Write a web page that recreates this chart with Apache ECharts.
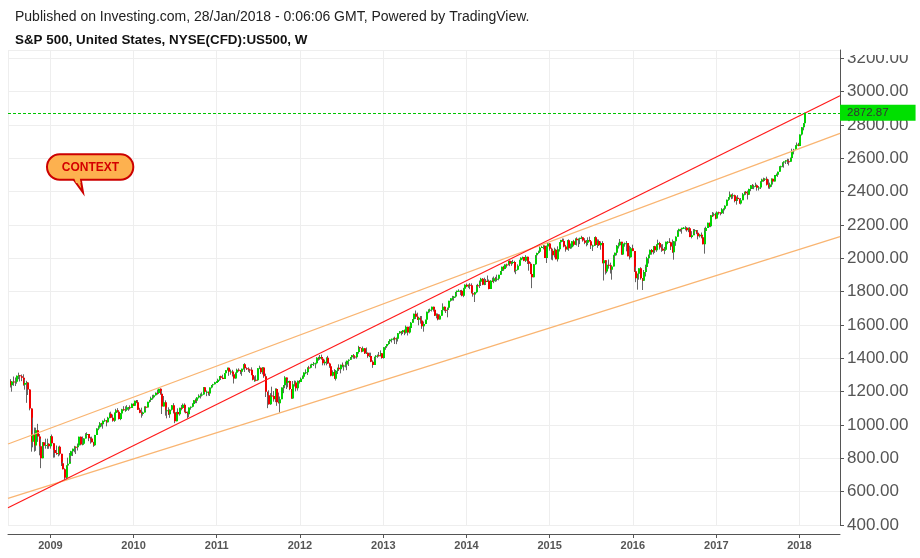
<!DOCTYPE html>
<html><head><meta charset="utf-8">
<script src="https://cdn.jsdelivr.net/npm/echarts@6/dist/echarts.min.js"></script>
<style>html,body{margin:0;padding:0;background:#fff}#c{width:920px;height:558px}</style>
</head><body><div id="c"></div>
<script>
// Weekly candles [open, close, low, high], consecutive weeks starting Monday firstWeek
const firstWeek = '2008-07-07';
const w2008 = [[1263,1239,1225,1275],[1239,1261,1200,1263],[1261,1258,1235,1291],[1258,1260,1234,1285],[1260,1296,1248,1297],[1296,1298,1275,1314],[1298,1292,1261,1300],[1292,1283,1263,1303],[1283,1242,1236,1304],[1242,1252,1212,1274],[1252,1255,1133,1265],[1255,1213,1180,1256],[1213,1099,1088,1215],[1099,899,840,1100],[899,941,866,1044],[941,877,840,985],[877,969,845,984],[969,931,899,1007],[931,873,818,946],[873,800,741,918],[800,896,800,896],[896,876,815,896],[876,880,858,918],[880,888,857,918],[888,873,857,890],[873,932,858,934]];
const w2009 = [[932,890,888,943],[890,850,804,891],[850,832,805,850],[832,826,821,877],[826,869,812,870],[869,827,818,876],[827,770,754,827],[770,735,734,780],[735,683,667,740],[683,757,672,758],[757,768,749,804],[768,816,768,832],[816,842,779,845],[842,857,814,858],[857,870,836,875],[870,866,826,871],[866,877,847,889],[877,929,876,930],[929,883,878,931],[883,887,878,931],[887,919,883,920],[919,940,919,951],[940,946,929,956],[946,921,903,946],[921,919,888,929],[919,896,896,930],[896,879,869,899],[879,940,875,941],[940,979,940,980],[979,987,969,997],[987,1010,987,1018],[1010,1004,991,1013],[1004,1026,978,1027],[1026,1029,1019,1039],[1029,1016,992,1029],[1016,1043,1016,1049],[1043,1068,1040,1075],[1068,1044,1041,1080],[1044,1025,1020,1063],[1025,1072,1019,1076],[1072,1088,1071,1097],[1088,1080,1075,1101],[1080,1036,1033,1085],[1036,1069,1029,1072],[1069,1094,1068,1097],[1094,1091,1085,1113],[1091,1092,1079,1112],[1092,1106,1086,1119],[1106,1106,1085,1108],[1106,1102,1093,1118],[1102,1127,1102,1129],[1127,1115,1115,1130]];
const w2010 = [[1115,1145,1115,1146],[1145,1136,1131,1150],[1136,1092,1090,1150],[1092,1074,1071,1103],[1074,1066,1044,1104],[1066,1075,1056,1080],[1075,1109,1075,1112],[1109,1105,1086,1112],[1105,1139,1105,1139],[1139,1150,1134,1151],[1150,1160,1141,1170],[1160,1167,1152,1181],[1167,1178,1161,1182],[1178,1194,1176,1195],[1194,1192,1182,1213],[1192,1217,1188,1218],[1217,1187,1181,1220],[1187,1111,1066,1205],[1111,1136,1111,1174],[1136,1088,1056,1148],[1088,1089,1040,1105],[1089,1065,1060,1106],[1065,1092,1043,1094],[1092,1118,1087,1120],[1118,1077,1069,1131],[1077,1023,1011,1080],[1023,1078,1022,1079],[1078,1065,1063,1100],[1065,1103,1056,1103],[1103,1102,1088,1120],[1102,1122,1102,1129],[1122,1079,1075,1130],[1079,1072,1069,1100],[1072,1065,1040,1081],[1065,1105,1047,1105],[1105,1110,1092,1111],[1110,1126,1106,1131],[1126,1149,1122,1149],[1149,1146,1131,1159],[1146,1165,1131,1167],[1165,1176,1159,1184],[1176,1183,1159,1189],[1183,1183,1171,1196],[1183,1226,1181,1227],[1226,1199,1194,1228],[1199,1200,1173,1207],[1200,1189,1177,1200],[1189,1225,1174,1225],[1225,1240,1220,1240],[1240,1244,1233,1247],[1244,1257,1243,1259],[1257,1258,1254,1264]];
const w2011 = [[1258,1272,1257,1278],[1272,1293,1265,1294],[1293,1283,1271,1296],[1283,1276,1275,1302],[1276,1311,1276,1311],[1311,1329,1311,1330],[1329,1343,1327,1344],[1343,1320,1295,1343],[1320,1321,1302,1333],[1321,1304,1291,1331],[1304,1279,1249,1304],[1279,1314,1278,1315],[1314,1332,1305,1338],[1332,1328,1320,1340],[1328,1320,1305,1329],[1320,1337,1295,1338],[1337,1364,1332,1364],[1364,1340,1318,1371],[1340,1338,1330,1346],[1338,1333,1319,1346],[1333,1331,1312,1334],[1331,1300,1298,1346],[1300,1271,1268,1300],[1271,1272,1259,1292],[1272,1268,1262,1298],[1268,1340,1265,1341],[1340,1344,1335,1356],[1344,1316,1306,1344],[1316,1345,1304,1347],[1345,1292,1283,1345],[1292,1199,1168,1308],[1199,1179,1101,1199],[1179,1124,1122,1208],[1124,1177,1121,1191],[1177,1174,1169,1230],[1174,1154,1140,1204],[1154,1216,1137,1220],[1216,1136,1115,1220],[1136,1131,1130,1195],[1131,1155,1075,1171],[1155,1225,1155,1225],[1225,1238,1191,1240],[1238,1285,1221,1293],[1285,1253,1216,1285],[1253,1264,1226,1277],[1264,1216,1209,1266],[1216,1159,1158,1216],[1159,1244,1158,1264],[1244,1255,1231,1267],[1255,1220,1202,1265],[1220,1265,1206,1266],[1265,1258,1249,1270]];
const w2012 = [[1258,1278,1258,1285],[1278,1289,1275,1297],[1289,1315,1289,1316],[1315,1316,1305,1334],[1316,1345,1300,1345],[1345,1343,1337,1355],[1343,1361,1340,1363],[1361,1366,1352,1368],[1366,1370,1354,1378],[1370,1371,1340,1374],[1371,1404,1371,1407],[1404,1397,1386,1409],[1397,1408,1391,1420],[1408,1398,1392,1422],[1398,1370,1358,1398],[1370,1379,1358,1392],[1379,1403,1358,1406],[1403,1369,1367,1415],[1369,1353,1343,1374],[1353,1295,1292,1354],[1295,1318,1292,1328],[1318,1278,1277,1335],[1278,1326,1267,1330],[1326,1343,1306,1343],[1343,1335,1324,1364],[1335,1362,1310,1362],[1362,1355,1346,1375],[1355,1357,1326,1357],[1357,1363,1346,1380],[1363,1386,1329,1386],[1386,1391,1354,1394],[1391,1406,1391,1408],[1406,1418,1397,1420],[1418,1411,1398,1426],[1411,1407,1397,1414],[1407,1438,1398,1438],[1438,1466,1428,1475],[1466,1460,1454,1467],[1460,1441,1436,1461],[1441,1461,1440,1471],[1461,1429,1426,1461],[1429,1433,1426,1465],[1433,1412,1403,1434],[1412,1414,1407,1434],[1414,1380,1377,1434],[1380,1360,1343,1388],[1360,1409,1360,1409],[1409,1416,1385,1419],[1416,1418,1403,1423],[1418,1414,1411,1438],[1414,1430,1411,1448],[1430,1402,1398,1430],[1402,1466,1398,1467]];
const w2013 = [[1466,1472,1451,1472],[1472,1486,1463,1486],[1486,1503,1481,1503],[1503,1513,1492,1514],[1513,1518,1495,1518],[1518,1520,1508,1524],[1520,1516,1486,1530],[1516,1518,1485,1525],[1518,1551,1501,1552],[1551,1561,1547,1564],[1561,1557,1538,1564],[1557,1569,1546,1570],[1569,1553,1539,1573],[1553,1589,1548,1597],[1589,1555,1537,1589],[1555,1582,1549,1592],[1582,1614,1577,1618],[1614,1634,1614,1635],[1634,1667,1627,1668],[1667,1650,1636,1687],[1650,1631,1630,1674],[1631,1643,1598,1644],[1643,1627,1608,1654],[1627,1592,1577,1654],[1592,1606,1560,1621],[1606,1632,1605,1632],[1632,1680,1632,1680],[1680,1692,1671,1694],[1692,1692,1676,1698],[1692,1710,1681,1710],[1710,1691,1681,1710],[1691,1656,1654,1696],[1656,1664,1640,1670],[1664,1633,1628,1669],[1633,1655,1633,1664],[1655,1688,1655,1690],[1688,1710,1683,1730],[1710,1692,1683,1711],[1692,1691,1672,1698],[1691,1703,1646,1704],[1703,1745,1692,1745],[1745,1760,1740,1760],[1760,1762,1747,1775],[1762,1771,1746,1774],[1771,1798,1764,1799],[1798,1805,1780,1806],[1805,1806,1800,1814],[1806,1805,1779,1810],[1805,1775,1772,1811],[1775,1818,1767,1823],[1818,1841,1818,1844],[1841,1831,1827,1849]];
const w2014 = [[1831,1842,1823,1843],[1842,1839,1815,1851],[1839,1790,1790,1850],[1790,1783,1770,1799],[1783,1797,1738,1798],[1797,1839,1791,1841],[1839,1836,1825,1847],[1836,1860,1822,1867],[1860,1878,1834,1883],[1878,1841,1839,1882],[1841,1866,1839,1884],[1866,1858,1840,1876],[1858,1865,1858,1897],[1865,1816,1814,1873],[1816,1865,1816,1869],[1865,1863,1859,1884],[1863,1881,1851,1891],[1881,1878,1859,1889],[1878,1878,1862,1902],[1878,1901,1868,1901],[1901,1924,1901,1924],[1924,1949,1915,1950],[1949,1936,1925,1955],[1936,1963,1934,1964],[1963,1961,1944,1968],[1961,1985,1958,1985],[1985,1968,1953,1985],[1968,1978,1955,1984],[1978,1978,1965,1991],[1978,1925,1916,1985],[1925,1932,1905,1943],[1932,1955,1928,1964],[1955,1988,1953,1992],[1988,2003,1988,2006],[2003,2008,1993,2011],[2008,1985,1983,2008],[1985,2010,1978,2019],[2010,1983,1966,2010],[1983,1968,1926,1985],[1968,1906,1905,1977],[1906,1887,1821,1906],[1887,1965,1886,1966],[1965,2018,1961,2018],[2018,2032,2001,2034],[2032,2040,2027,2046],[2040,2064,2034,2071],[2064,2068,2062,2075],[2068,2075,2054,2079],[2075,2002,2002,2077],[2002,2071,1972,2077],[2071,2089,2069,2094],[2089,2058,2046,2092]];
const w2015 = [[2058,2045,1992,2064],[2045,2019,1988,2056],[2019,2052,2005,2064],[2052,1995,1994,2057],[1995,2055,1981,2072],[2055,2097,2041,2097],[2097,2110,2085,2111],[2110,2104,2099,2119],[2104,2071,2066,2118],[2071,2053,2040,2081],[2053,2108,2053,2109],[2108,2061,2045,2114],[2061,2067,2057,2089],[2067,2102,2060,2103],[2102,2081,2072,2111],[2081,2118,2081,2120],[2118,2108,2077,2126],[2108,2116,2068,2120],[2116,2123,2085,2123],[2123,2126,2115,2135],[2126,2107,2100,2127],[2107,2093,2085,2121],[2093,2094,2072,2110],[2094,2110,2079,2126],[2110,2102,2100,2130],[2102,2077,2056,2102],[2077,2077,2044,2082],[2077,2127,2074,2128],[2127,2080,2077,2132],[2080,2104,2063,2114],[2104,2078,2074,2113],[2078,2092,2052,2102],[2092,1971,1971,2103],[1971,1989,1867,1989],[1989,1921,1903,1989],[1921,1961,1911,1981],[1961,1958,1938,1993],[1958,1931,1909,1974],[1931,1951,1872,1952],[1951,2015,1951,2021],[2015,2033,1990,2034],[2033,2075,2018,2080],[2075,2079,2059,2094],[2079,2099,2079,2116],[2099,2023,2022,2099],[2023,2089,2020,2090],[2089,2090,2070,2095],[2090,2092,2042,2104],[2092,2012,2012,2092],[2012,2006,1993,2076],[2006,2061,2005,2068],[2061,2044,2043,2082]];
const w2016 = [[2044,1922,1918,2044],[1922,1880,1857,1950],[1880,1907,1812,1908],[1907,1940,1872,1940],[1940,1880,1872,1947],[1880,1865,1810,1882],[1865,1918,1865,1930],[1918,1948,1891,1962],[1948,2000,1932,2009],[2000,2022,1969,2022],[2022,2050,2012,2053],[2050,2036,2022,2056],[2036,2073,2024,2073],[2073,2048,2033,2075],[2048,2081,2039,2085],[2081,2092,2074,2112],[2092,2065,2053,2099],[2065,2057,2039,2084],[2057,2047,2045,2085],[2047,2052,2025,2068],[2052,2099,2052,2100],[2099,2099,2085,2104],[2099,2096,2093,2121],[2096,2071,2050,2096],[2071,2037,2033,2113],[2037,2103,1992,2104],[2103,2130,2075,2132],[2130,2162,2130,2169],[2162,2175,2155,2178],[2175,2174,2160,2177],[2174,2183,2148,2183],[2183,2184,2176,2188],[2184,2184,2168,2193],[2184,2169,2160,2187],[2169,2180,2157,2185],[2180,2128,2127,2187],[2128,2139,2120,2163],[2139,2165,2139,2176],[2165,2168,2145,2175],[2168,2154,2145,2169],[2154,2133,2114,2169],[2133,2141,2125,2147],[2141,2126,2120,2155],[2126,2085,2084,2134],[2085,2164,2028,2183],[2164,2182,2156,2190],[2182,2213,2182,2214],[2213,2192,2187,2214],[2192,2259,2187,2260],[2259,2258,2248,2278],[2258,2264,2254,2274],[2264,2239,2234,2274]];
const w2017 = [[2239,2277,2239,2282],[2277,2275,2262,2280],[2275,2271,2258,2276],[2271,2295,2266,2301],[2295,2297,2267,2300],[2297,2316,2288,2318],[2316,2351,2313,2352],[2351,2367,2345,2368],[2367,2383,2358,2401],[2383,2373,2355,2383],[2373,2378,2358,2390],[2378,2344,2336,2382],[2344,2363,2322,2371],[2363,2356,2344,2379],[2356,2329,2328,2360],[2329,2349,2323,2362],[2349,2384,2349,2392],[2384,2399,2378,2400],[2399,2391,2381,2404],[2391,2382,2353,2406],[2382,2416,2382,2418],[2416,2439,2403,2440],[2439,2432,2416,2446],[2432,2433,2415,2441],[2433,2438,2428,2454],[2438,2423,2406,2443],[2423,2425,2407,2434],[2425,2459,2416,2463],[2459,2473,2452,2478],[2473,2472,2459,2484],[2472,2477,2464,2481],[2477,2441,2437,2490],[2441,2426,2418,2474],[2426,2443,2417,2454],[2443,2477,2429,2480],[2477,2461,2447,2477],[2461,2500,2461,2500],[2500,2502,2493,2509],[2502,2519,2489,2520],[2519,2549,2519,2553],[2549,2553,2543,2556],[2553,2575,2547,2576],[2575,2581,2544,2582],[2581,2588,2566,2588],[2588,2582,2566,2598],[2582,2579,2557,2597],[2579,2602,2579,2605],[2602,2642,2598,2658],[2642,2652,2624,2657],[2652,2676,2650,2679],[2676,2683,2674,2695],[2683,2674,2673,2693]];
const w2018 = [[2674,2743,2674,2743],[2743,2786,2737,2787],[2786,2810,2768,2811],[2810,2872.87,2809,2872.87]];

// Trend / channel lines, anchored by [date, price]
const redTrend = [['2008-06-29', 503], ['2018-06-28', 2975]];
const upperChannel = [['2008-06-29', 886], ['2018-06-28', 2750]];
const lowerChannel = [['2008-06-29', 560], ['2018-06-28', 2130]];

// Axis
const xStart = '2008-06-29', xEnd = '2018-06-28';
const yearLabels = ['2009','2010','2011','2012','2013','2014','2015','2016','2017','2018'];
const yMin = 400, yMax = 3250, yStep = 200;

const titleLine = 'Published on Investing.com, 28/Jan/2018 - 0:06:06 GMT, Powered by TradingView.';
const subLine = 'S&P 500, United States, NYSE(CFD):US500, W';
const noteText = 'CONTEXT';

function localDay(s){ const p = s.split('-').map(Number); return new Date(p[0], p[1]-1, p[2]).getTime(); }
const weeks = [].concat(w2008,w2009,w2010,w2011,w2012,w2013,w2014,w2015,w2016,w2017,w2018);
const start = localDay(firstWeek);
const candleData = weeks.map((r,i)=>{ const d = new Date(start); d.setDate(d.getDate()+7*i); return [d.getTime(), r[0], r[1], r[2], r[3]]; });
const lastClose = weeks[weeks.length-1][1];
const toPts = a => a.map(p => [localDay(p[0]), p[1]]);
const FONT = '"Liberation Sans", Arial, Helvetica, sans-serif';

const chart = echarts.init(document.getElementById('c'), null, {renderer:'canvas'});
chart.setOption({
  animation: false,
  backgroundColor: '#fff',
  grid: {left: 8, right: 80, top: 50, bottom: 33, containLabel: false},
  xAxis: {
    type: 'time', min: localDay(xStart), max: localDay(xEnd),
    minInterval: 365*86400000, maxInterval: 366*86400000,
    offset: 9,
    axisLine: {show: true, lineStyle: {color: '#555', width: 1}},
    axisTick: {show: true, length: 4, lineStyle: {color: '#555'}},
    axisLabel: {
      color: '#555', fontSize: 11, fontWeight: 'bold', fontFamily: FONT, margin: 6,
      showMinLabel: false, showMaxLabel: false,
      formatter: v => { const d = new Date(v); const y = String(d.getFullYear()); return (d.getMonth()===0 && d.getDate()===1 && yearLabels.includes(y)) ? y : ''; }
    },
    splitLine: {show: true, lineStyle: {color: '#eeeeee', width: 1}}
  },
  yAxis: {
    type: 'value', position: 'right', min: yMin, max: yMax, interval: yStep, scale: false,
    axisLine: {show: true, lineStyle: {color: '#555', width: 1}},
    axisTick: {show: true, length: 4, lineStyle: {color: '#555'}},
    axisLabel: {color: '#555', fontSize: 17, fontFamily: FONT, margin: 7,
      formatter: v => (Math.abs(v % yStep) < 1e-6 ? v.toFixed(2) : '')},
    splitLine: {show: true, lineStyle: {color: '#eeeeee', width: 1}}
  },
  series: [
    {
      type: 'custom', name: 'US500', clip: true, z: 2,
      encode: {x: 0, y: [1,2,3,4]},
      data: candleData,
      renderItem: (params, api) => {
        const t = api.value(0), o = api.value(1), c = api.value(2), l = api.value(3), h = api.value(4);
        const po = api.coord([t, o]), pc = api.coord([t, c]), pl = api.coord([t, l]), ph = api.coord([t, h]);
        const px = Math.round(po[0]);
        const top = Math.min(po[1], pc[1]);
        const hgt = Math.max(1, Math.abs(po[1]-pc[1]));
        return {type: 'group', children: [
          {type: 'line', shape: {x1: px+0.5, y1: ph[1], x2: px+0.5, y2: pl[1]}, style: {stroke: '#666', lineWidth: 1}},
          {type: 'rect', shape: {x: px, y: top, width: 2, height: hgt}, style: {fill: c >= o ? '#00d400' : '#f20000'}}
        ]};
      }
    },
    {type: 'line', data: toPts(upperChannel), symbol: 'none', silent: true, z: 3,
      lineStyle: {color: '#f9b572', width: 1.3}},
    {type: 'line', data: toPts(lowerChannel), symbol: 'none', silent: true, z: 3,
      lineStyle: {color: '#f9b572', width: 1.3}},
    {type: 'line', data: toPts(redTrend), symbol: 'none', silent: true, z: 4,
      lineStyle: {color: '#ff1a1a', width: 1.2}},
    {type: 'line', data: [], silent: true, z: 5, color: '#00c400',
      markLine: {
        silent: true, symbol: ['none','none'], animation: false,
        lineStyle: {color: '#00c400', type: [3, 2], width: 1, opacity: 1},
        label: {show: true, position: 'end', distance: 0, formatter: () => lastClose.toFixed(2),
          backgroundColor: '#00e000', color: '#333', fontSize: 11.5, fontFamily: FONT,
          padding: [2, 27, 2, 7]},
        emphasis: {disabled: true},
        data: [{yAxis: lastClose}]
      }
    }
  ],
  graphic: [
    {type: 'rect', z: 100, shape: {x: 841, y: 0, width: 79, height: 55}, style: {fill: '#fff'}},
    {type: 'text', z: 101, x: 15, y: 17, style: {text: titleLine, fill: '#222', fontSize: 14, fontFamily: FONT, verticalAlign: 'middle'}},
    {type: 'text', z: 101, x: 15, y: 40, style: {text: subLine, fill: '#111', fontSize: 13.4, fontWeight: 'bold', fontFamily: FONT, verticalAlign: 'middle'}},
    {type: 'polygon', z: 110, shape: {points: [[72.5,178],[83,192.5],[80.5,178]]}, style: {fill: '#fdb14f', stroke: '#cc0000', lineWidth: 2}},
    {type: 'rect', z: 111, shape: {x: 47, y: 154.3, width: 86.3, height: 25.4, r: 12.7}, style: {fill: '#fdb14f', stroke: '#cc0000', lineWidth: 2}},
    {type: 'polygon', z: 112, shape: {points: [[73.8,177],[79.6,177],[80.6,183],[76,183]]}, style: {fill: '#fdb14f'}},
    {type: 'text', z: 113, x: 90.5, y: 168, style: {text: noteText, fill: '#d40000', fontSize: 12, fontWeight: 'bold', fontFamily: FONT, align: 'center', verticalAlign: 'middle'}}
  ]
});
</script>
</body></html>
